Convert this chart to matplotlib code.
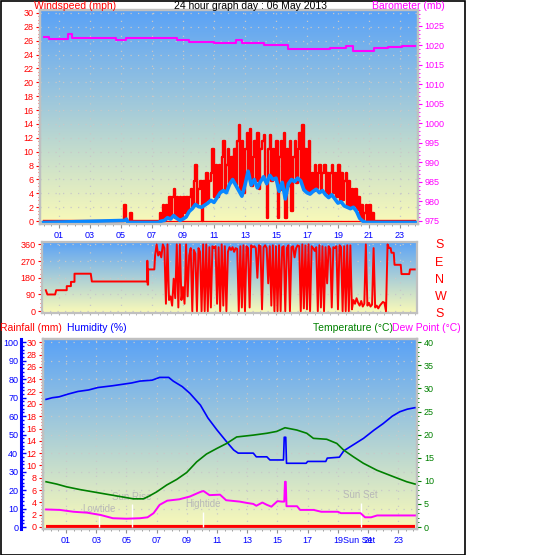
import numpy as np
import matplotlib
matplotlib.use('Agg')
import matplotlib.pyplot as plt
from matplotlib.ticker import MultipleLocator, FixedLocator, NullFormatter
from matplotlib.colors import LinearSegmentedColormap
import matplotlib.patches as patches
import matplotlib.transforms as mtransforms

plt.rcParams['font.family'] = ['Liberation Sans', 'DejaVu Sans']

# ---------------- DATA ----------------
title = '24 hour graph day : 06 May 2013'
hour_ticks = [1, 3, 5, 7, 9, 11, 13, 15, 17, 19, 21, 23]
hour_labels = ['01', '03', '05', '07', '09', '11', '13', '15', '17', '19', '21', '23']

# wind gust (mph): quiet early part, then 6-minute samples from 07:24
gust_pre_h = [0.0, 5.2, 5.3, 5.6, 5.7]
gust_pre = [0, 2.3, 0, 1.1, 0]
gust_start = 7.4
gust_vals = [0, 1.1, 0, 2.3, 0, 2.3, 0.5, 3.5, 0.5, 3.5, 4.6, 0.5, 3.5, 0.5, 3.5, 0.5,
             3.5, 1.1, 3.5, 1.5, 3.5, 4.6, 2.0, 5.8, 8.1, 2.5, 4.6, 5.8, 0, 5.8, 2.5, 6.9,
             3.0, 5.8, 6.9, 10.4, 3.5, 8.1, 3.5, 8.1, 4.5, 9.2, 11.5, 4.6, 8.1, 10.4, 5.5,
             9.2, 5.8, 10.4, 5.2, 11.5, 13.8, 4.5, 11.5, 4.0, 10.4, 12.7, 6.9, 13.2, 5.0,
             9.2, 11.5, 5.8, 12.7, 4.6, 10.4, 11.5, 12.4, 5.8, 0.5, 10.4, 12.4, 5.8, 10.4,
             6.0, 11.5, 0.5, 9.2, 11.5, 4.5, 12.7, 0.5, 10.4, 5.0, 11.5, 1.5, 9.2, 11.5,
             5.5, 10.4, 12.7, 5.8, 13.8, 4.6, 10.4, 4.2, 11.5, 4.0, 6.9, 4.4, 8.1, 4.7,
             6.9, 8.1, 4.3, 6.9, 8.1, 4.0, 6.9, 3.6, 6.9, 8.1, 4.0, 6.9, 3.4, 8.1, 2.8,
             6.9, 3.0, 5.8, 6.9, 2.2, 5.8, 2.0, 4.6, 2.2, 4.6, 1.6, 3.5, 0.6, 2.3, 0, 1.1,
             2.3, 0, 2.3, 0, 1.1, 0]
gust_end_h = 24.0

# average wind (mph): 12-minute samples from 07:24
avg_pre_h = [0.0, 5.25, 5.35, 5.45, 7.3]
avg_pre = [0, 0.3, 0.5, 0, 0]
avg_start = 7.4
avg_vals = [0.0, 0.2, 0.3, 0.7, 0.5, 1.0, 0.6, 0.3, 0.5, 0.8, 1.6, 2.0, 2.6, 2.3, 2.2,
            2.5, 2.8, 3.2, 2.9, 3.6, 4.3, 4.6, 4.3, 5.5, 6.2, 5.4, 4.6, 3.8, 5.4, 7.4,
            5.4, 6.2, 5.0, 5.9, 6.6, 5.6, 6.8, 6.2, 6.4, 4.5, 5.8, 3.4, 5.6, 6.2, 5.9,
            6.4, 6.0, 4.7, 4.3, 4.1, 4.5, 4.8, 4.3, 4.6, 4.0, 3.6, 4.0, 3.4, 2.8, 3.0,
            2.4, 2.2, 2.0, 2.2, 1.6, 0.6, 0.2, 0.0]

# barometer (mb), step changes
baro_h = [0.0, 0.35, 1.6, 1.85, 4.7, 5.3, 8.6, 9.4, 11.0, 12.4, 12.8, 14.2, 15.8,
          17.5, 18.5, 19.5, 20.0, 21.3, 22.2, 23.1, 24.0]
baro = [1022.3, 1021.7, 1022.9, 1021.9, 1021.3, 1021.9, 1021.4, 1021.0, 1020.6,
        1021.3, 1020.6, 1020.0, 1019.2, 1019.0, 1019.4, 1019.9, 1018.6, 1019.3,
        1019.5, 1019.9, 1019.9]

# wind direction (deg)
dir_pre_h = [0.15, 0.25, 0.75, 0.82, 1.5, 1.5, 1.77, 1.77, 2.0, 2.0, 3.05, 3.12,
             6.7, 6.7, 6.72, 6.75, 6.75, 7.15]
dir_pre = [113, 90, 90, 113, 113, 135, 135, 158, 158, 202, 202, 160,
           160, 272, 143, 143, 225, 225]
dir_start = 7.2
dir_vals = [300, 360, 300, 320, 290, 360, 340, 40, 360, 60, 80, 30, 175, 70, 360, 20,
            360, 60, 130, 40, 360, 80, 300, 340, 0, 330, 310, 0, 340, 320, 0, 360,
            0, 360, 0, 345, 20, 350, 340, 350, 40, 345, 0, 360, 30, 350, 0, 320, 345,
            330, 345, 320, 340, 335, 0, 350, 20, 355, 0, 350, 340, 20, 355, 345, 350,
            340, 180, 355, 350, 10, 345, 355, 340, 150, 350, 30, 355, 0, 350, 0, 355,
            0, 345, 350, 0, 340, 355, 0, 345, 350, 290, 340, 355, 350, 0, 360, 15,
            355, 10, 360, 0, 350, 340, 325, 345, 0, 355, 20, 350, 0, 345, 150, 350,
            335, 20, 345, 340, 350, 10, 355, 345, 0, 350, 0, 355, 0, 355, 10, 60, 40,
            70, 45, 30, 55, 25, 40, 360, 30, 45, 25, 35, 340, 20, 30, 15, 30, 40, 50,
            45, 0]
dir_post_h = [22.2, 22.3, 22.4, 22.45, 22.6, 22.65, 23.05, 23.1, 23.6, 23.65, 23.95]
dir_post = [360, 340, 340, 315, 315, 250, 250, 200, 200, 225, 225]
dir_letters = ['S', 'E', 'N', 'W', 'S']

# humidity (%)
hum_h = [-0.32, 0.1, 0.55, 1.15, 1.8, 2.5, 3.1, 4.1, 5.35, 5.9, 6.7, 7.2, 7.8, 8.1,
         8.7, 9.2, 9.9, 10.4, 11.0, 11.65, 12.1, 12.4, 13.4, 13.6, 14.3, 14.5, 15.4,
         15.45, 15.55, 15.6, 16.9, 17.0, 18.2, 18.3, 19.1, 19.4, 20.0, 20.7, 21.4,
         22.0, 22.6, 23.1, 23.6, 24.1]
hum = [69.1, 70.0, 70.5, 72.0, 73.4, 74.2, 75.5, 76.5, 78.0, 79.0, 79.5, 81.0, 81.0,
       79.0, 76.0, 72.4, 66.0, 59.0, 52.5, 46.0, 41.7, 40.0, 40.0, 38.0, 38.0, 36.3,
       36.3, 48.6, 48.6, 34.5, 34.5, 35.5, 35.5, 37.3, 37.8, 41.3, 44.4, 48.0, 52.5,
       56.0, 60.0, 62.4, 63.8, 64.6]

# temperature (C)
temp_h = [-0.32, 0.38, 1.04, 1.93, 2.81, 3.69, 4.58, 5.46, 6.12, 6.45, 7.0, 7.67,
          8.33, 8.99, 9.65, 10.3, 10.98, 11.64, 12.3, 13.4, 14.3, 14.95, 15.5, 16.28,
          16.94, 17.38, 18.26, 18.93, 19.37, 20.03, 20.69, 21.58, 22.68, 23.56, 24.11]
temp = [9.8, 9.3, 8.7, 8.1, 7.6, 7.1, 6.6, 6.1, 6.1, 6.6, 7.6, 9.1, 10.3, 11.8, 14.1,
        15.8, 17.0, 18.1, 19.5, 19.9, 20.3, 20.7, 21.5, 21.0, 20.3, 19.2, 19.0, 18.1,
        16.7, 15.2, 13.8, 12.3, 10.9, 9.8, 9.3]

# dew point (C)
dew_h = [-0.32, 0.6, 1.5, 2.4, 3.3, 4.1, 5.0, 5.9, 6.4, 6.8, 7.2, 7.7, 8.5, 9.2, 9.9,
         10.1, 10.5, 11.2, 11.6, 12.5, 13.0, 13.4, 13.6, 14.0, 14.3, 14.6, 15.0, 15.3,
         15.45, 15.5, 15.55, 15.6, 16.3, 16.5, 17.4, 17.9, 19.0, 19.2, 20.5, 20.8,
         21.2, 21.6, 24.1]
dew = [3.8, 3.7, 3.3, 3.1, 2.6, 1.9, 1.8, 1.9, 2.1, 3.0, 4.8, 5.7, 6.0, 6.6, 7.6, 7.8,
       6.9, 7.0, 5.8, 5.5, 5.2, 5.0, 4.6, 5.3, 4.8, 4.4, 5.6, 5.5, 5.5, 9.8, 9.8, 4.5,
       4.5, 3.7, 3.7, 3.3, 3.3, 3.0, 3.0, 2.1, 2.1, 2.5, 2.5]

# rainfall (mm)
rain_h = [-0.32, 24.1]
rain = [0.0, 0.0]

# day events
event_names = ['Lowtide', 'Sun Rise', 'Hightide', 'Sun Set']
event_hours = [3.2, 5.35, 10.1, 20.5]
event_tops = [2.4, 5.0, 3.3, 5.3]

# ---------------- FIGURE ----------------
W, H = 543, 555
fig = plt.figure(figsize=(W / 100, H / 100), dpi=100)


def rect(l, t, r, b):
    return [l / W, 1 - b / H, (r - l) / W, (b - t) / H]


bg_cmap = LinearSegmentedColormap.from_list('bg', ['#fafab8', '#5aa2f6'])
GRID = dict(color='#c8c8c8', linestyle=(0, (1, 5)), linewidth=0.9)
FRAME = '#c0c0c0'
XLBL = '#0000ff'


def background(ax):
    ax.imshow(np.linspace(0, 1, 256).reshape(-1, 1), aspect='auto', cmap=bg_cmap,
              origin='lower', extent=(0, 1, 0, 1), transform=ax.transAxes, zorder=0)


def frame(ax):
    for s in ax.spines.values():
        s.set_color(FRAME)
        s.set_linewidth(1.6)


# ---------- top: wind + barometer ----------
ax1 = fig.add_axes(rect(40, 10, 417.5, 224))
background(ax1)
frame(ax1)
gh = gust_pre_h + list(gust_start + 0.1 * np.arange(len(gust_vals))) + [gust_end_h]
gv = gust_pre + gust_vals + [0]
ax1.plot(gh, gv, color='#ff0000', lw=1.7, drawstyle='steps-post', zorder=3)
ah = avg_pre_h + list(avg_start + 0.2 * np.arange(len(avg_vals))) + [24.0]
av = avg_pre + avg_vals + [0]
off = mtransforms.offset_copy(ax1.transData, fig=fig, x=0, y=-1.5, units='dots')
ax1.plot(ah, av, color='#0a88ff', lw=2.6, transform=off, zorder=4)
ax1.plot([0.0, 24.0], [0, 0], color='#ff0000', lw=0.9, zorder=3.5)
ax1.set_xlim(-0.226, 24.13)
ax1.set_ylim(-0.43, 30.43)
ax1.yaxis.set_major_locator(MultipleLocator(2))
ax1.yaxis.set_minor_locator(MultipleLocator(0.5))
ax1.tick_params(axis='y', which='both', colors='#ff0000', direction='out', labelsize=6.5, pad=1.5)
ax1.tick_params(axis='y', which='major', length=3)
ax1.tick_params(axis='y', which='minor', length=1.5)
ax1.set_xticks(hour_ticks)
ax1.set_xticklabels(hour_labels)
ax1.xaxis.set_minor_locator(MultipleLocator(0.5))
ax1.tick_params(axis='x', which='both', color='#909090', labelcolor=XLBL, labelsize=6.5,
                direction='out', pad=2)
ax1.tick_params(axis='x', which='major', length=3)
ax1.tick_params(axis='x', which='minor', length=1.5)
ax1.grid(True, which='major', **GRID)

ax1b = ax1.twinx()
frame(ax1b)
ax1b.plot(baro_h, baro, color='#ff00ff', lw=1.5, drawstyle='steps-post')
ax1b.set_ylim(974.23, 1029.1)
ax1b.yaxis.set_major_locator(MultipleLocator(5))
ax1b.yaxis.set_minor_locator(MultipleLocator(1))
ax1b.tick_params(axis='y', which='both', colors='#ff00ff', direction='out', labelsize=6.5, pad=2)
ax1b.tick_params(axis='y', which='major', length=3)
ax1b.tick_params(axis='y', which='minor', length=1.5)

fig.text(34 / W, 1 - 6 / H, 'Windspeed (mph)', color='#ff0000', fontsize=7.5, va='center', ha='left')
fig.text(250 / W, 1 - 6 / H, title, color='black', fontsize=7.5, va='center', ha='center')
fig.text(372 / W, 1 - 6 / H, 'Barometer (mb)', color='#ff00ff', fontsize=7.5, va='center', ha='left')

# ---------- middle: wind direction ----------
ax2 = fig.add_axes(rect(42, 241.6, 417, 313.3))
background(ax2)
frame(ax2)
dh = dir_pre_h + list(dir_start + 0.1 * np.arange(len(dir_vals))) + dir_post_h
dv = dir_pre + dir_vals + dir_post
ax2.plot(dh, dv, color='#ff0000', lw=1.4, zorder=3)
ax2.set_xlim(-0.097, 24.1)
ax2.set_ylim(-11.4, 375)
ax2.set_yticks([0, 90, 180, 270, 360])
ax2.yaxis.set_minor_locator(MultipleLocator(22.5))
ax2.tick_params(axis='y', which='both', colors='#ff0000', direction='out', labelsize=6.5, pad=1.5)
ax2.tick_params(axis='y', which='major', length=3)
ax2.tick_params(axis='y', which='minor', length=1.5)
ax2.set_xticks(hour_ticks)
ax2.xaxis.set_major_formatter(NullFormatter())
ax2.xaxis.set_minor_locator(MultipleLocator(0.5))
ax2.tick_params(axis='x', which='both', color='#b0b0b0', direction='out', length=1.5)
ax2.grid(True, which='major', **GRID)
for lab, py in zip(dir_letters, [245.4, 262.7, 280.0, 296.6, 314.0]):
    fig.text(435 / W, 1 - py / H, lab, color='#ff0000', fontsize=9, va='center', ha='left')

# ---------- bottom: rain, humidity, temperature, dew point ----------
ax3 = fig.add_axes(rect(43, 339.3, 417, 529.3))
background(ax3)
frame(ax3)
ax3.set_xlim(-0.523, 24.24)
ax3.set_ylim(-0.374, 30.49)
ax3.plot(rain_h, rain, color='#ff0000', lw=3.0, zorder=3, solid_capstyle='butt')
ax3.yaxis.set_major_locator(MultipleLocator(2))
ax3.yaxis.set_minor_locator(MultipleLocator(0.5))
ax3.tick_params(axis='y', which='both', colors='#ff0000', direction='out', labelsize=6.5, pad=1.5)
ax3.tick_params(axis='y', which='major', length=3)
ax3.tick_params(axis='y', which='minor', length=1.5)
ax3.set_xticks(hour_ticks)
ax3.set_xticklabels(hour_labels)
ax3.xaxis.set_minor_locator(MultipleLocator(0.5))
ax3.tick_params(axis='x', which='both', color='#909090', labelcolor=XLBL, labelsize=6.5,
                direction='out', pad=2)
ax3.tick_params(axis='x', which='major', length=3)
ax3.tick_params(axis='x', which='minor', length=1.5)
ax3.grid(True, which='major', axis='x', **GRID)
for yv in np.arange(3, 31, 3):
    ax3.axhline(yv, zorder=1.5, **GRID)
ax3.text(20.4, -0.06, 'Sun Set', transform=ax3.get_xaxis_transform(), color=XLBL,
         fontsize=6.5, ha='center', va='center')

axh = ax3.twinx()
for s in axh.spines.values():
    s.set_visible(False)
axh.spines['left'].set_visible(True)
axh.spines['left'].set_position(('outward', 15.8))
axh.spines['left'].set_color('#0000ff')
axh.spines['left'].set_linewidth(2.2)
axh.yaxis.set_ticks_position('left')
axh.yaxis.set_label_position('left')
axh.plot(hum_h, hum, color='#0000ff', lw=1.2, zorder=3)
axh.set_ylim(-1.245, 101.63)
axh.yaxis.set_major_locator(MultipleLocator(10))
axh.yaxis.set_minor_locator(MultipleLocator(2))
axh.tick_params(axis='y', which='both', colors='#0000ff', direction='in', labelsize=6.5, pad=2)
axh.tick_params(axis='y', which='major', length=3.5, width=1)
axh.tick_params(axis='y', which='minor', length=2, width=1)

axt = ax3.twinx()
frame(axt)
axt.plot(temp_h, temp, color='#008000', lw=1.2, zorder=3)
axt.plot(dew_h, dew, color='#ff00ff', lw=1.4, zorder=3)
axt.set_ylim(-0.498, 40.65)
axt.yaxis.set_major_locator(MultipleLocator(5))
axt.yaxis.set_minor_locator(MultipleLocator(1))
axt.tick_params(axis='y', which='both', colors='#008000', direction='out', labelsize=6.5, pad=2)
axt.tick_params(axis='y', which='major', length=3)
axt.tick_params(axis='y', which='minor', length=1.5)
for name, hx, top in zip(event_names, event_hours, event_tops):
    axt.vlines(hx, 0, top, color='white', lw=1.0, zorder=2)
    axt.text(hx, top + 1.6, name, color='#b8b8b8', fontsize=7, ha='center', va='center', zorder=2)

fig.text(0 / W, 1 - 327.7 / H, 'Rainfall (mm)', color='#ff0000', fontsize=7.5, va='center', ha='left')
fig.text(67 / W, 1 - 327.7 / H, 'Humidity (%)', color='#0000ff', fontsize=7.5, va='center', ha='left')
fig.text(313 / W, 1 - 327.7 / H, 'Temperature (°C)', color='#008000', fontsize=7.5, va='center', ha='left')
fig.text(392 / W, 1 - 327.7 / H, 'Dew Point (°C)', color='#ff00ff', fontsize=7.5, va='center', ha='left')

# outer frame
fig.add_artist(patches.Rectangle((0.5 / W, 0.5 / H), 464.5 / W, 554 / H, transform=fig.transFigure,
                                 fill=False, edgecolor='black', lw=1.2))

fig.savefig('out.png', dpi=100)
